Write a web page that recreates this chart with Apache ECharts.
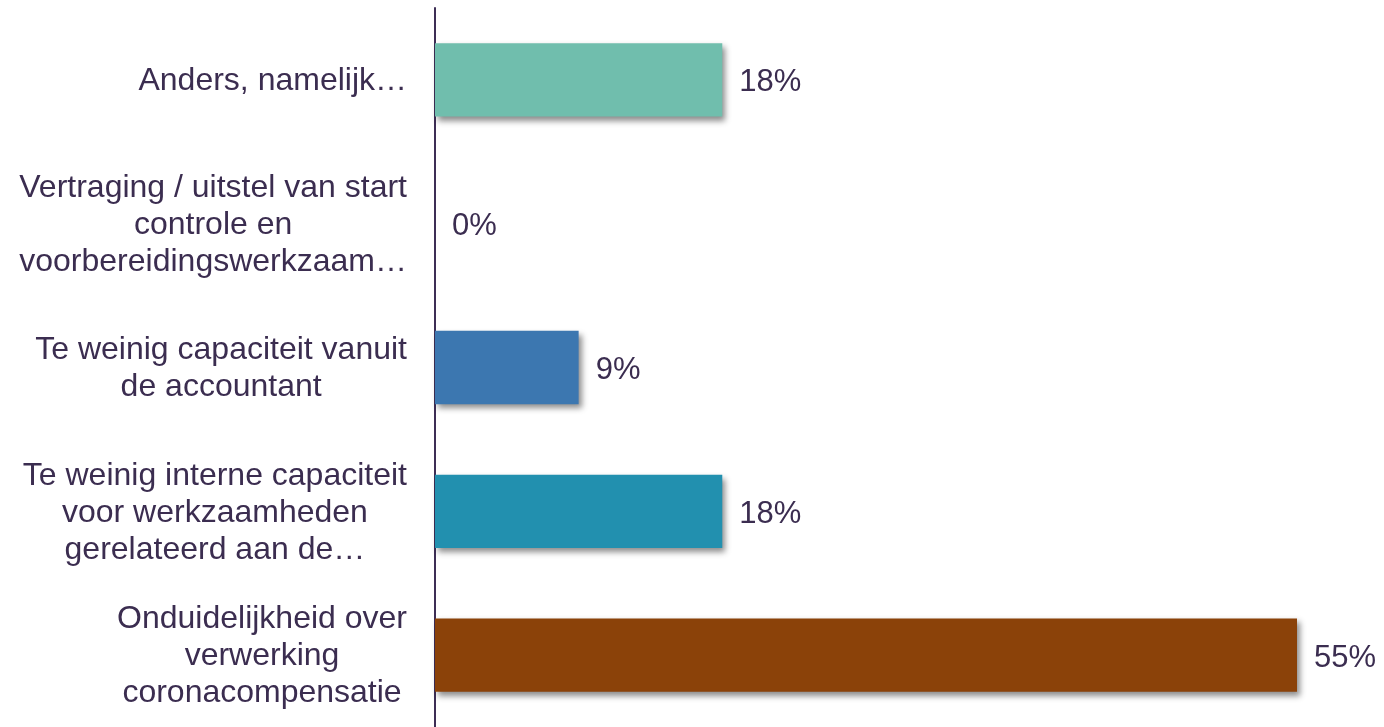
<!DOCTYPE html>
<html>
<head>
<meta charset="utf-8">
<script src="https://cdn.jsdelivr.net/npm/echarts@6/dist/echarts.min.js"></script>
<style>
html,body{margin:0;padding:0;background:#fff;}
#main{width:1384px;height:727px;}
</style>
</head>
<body>
<div id="main"></div>
<script>
var categories = [
  "Anders, namelijk…",
  "Vertraging / uitstel van start\ncontrole en\nvoorbereidingswerkzaam…",
  "Te weinig capaciteit vanuit\nde accountant",
  "Te weinig interne capaciteit\nvoor werkzaamheden\ngerelateerd aan de…",
  "Onduidelijkheid over\nverwerking\ncoronacompensatie"
];
var values = [18.18, 0, 9.09, 18.18, 54.55];
var colors = ["#70BEAD", "#2E8FAA", "#3C77B0", "#2290AF", "#8B4209"];

var textColor = "#3B2D50";
var FONT = "'Liberation Sans', Arial, sans-serif";
var chart = echarts.init(document.getElementById('main'));
chart.setOption({
  animation: false,
  grid: {left: 435, right: 87, top: 8, bottom: -4, containLabel: false},
  xAxis: {
    type: 'value', min: 0, max: 54.55, show: false
  },
  yAxis: {
    type: 'category', data: categories, inverse: true,
    axisLine: {show: true, lineStyle: {color: '#3D2E55', width: 2}},
    axisTick: {show: false},
    axisLabel: {
      margin: 28,
      fontFamily: FONT,
      fontSize: 32,
      color: textColor,
      formatter: function (v) {
        return v.split('\n').map(function (l) { return '{a|' + l + '}'; }).join('\n');
      },
      rich: {a: {align: 'center', fontSize: 32, lineHeight: 37, color: textColor, fontFamily: FONT, padding: [3, 0, 0, 0]}}
    }
  },
  series: [{
    type: 'bar',
    barWidth: '51%',
    data: values.map(function (v, i) {
      return {value: v, itemStyle: {color: colors[i]}};
    }),
    itemStyle: {
      shadowColor: 'rgba(0,0,0,0.45)', shadowBlur: 6, shadowOffsetX: 3, shadowOffsetY: 4
    },
    label: {
      show: true, position: 'right', distance: 17,
      fontFamily: FONT, fontSize: 31, color: textColor,
      offset: [0, 3],
      formatter: function (p) { return Math.round(p.value) + '%'; }
    }
  }]
});
</script>
</body>
</html>
